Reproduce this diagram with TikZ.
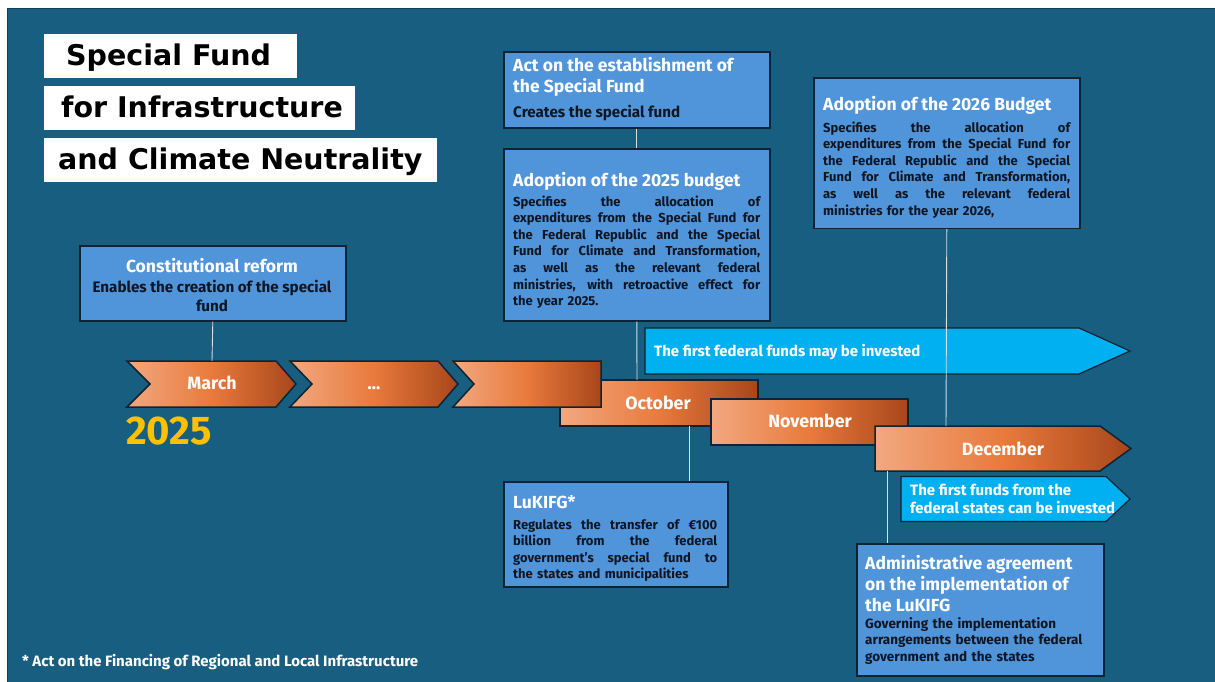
\documentclass[tikz,border=0pt]{standalone}
\usepackage{fontspec}
\setmainfont{Fira Sans}
\newfontfamily\titlefont{DejaVu Sans}
\usetikzlibrary{calc}
\definecolor{bg}{RGB}{23,94,128}
\definecolor{bgedge}{RGB}{14,62,88}
\definecolor{boxblue}{RGB}{80,148,218}
\definecolor{boxline}{RGB}{12,36,54}
\definecolor{darktext}{RGB}{14,22,36}
\definecolor{cyanarrow}{RGB}{0,176,240}
\definecolor{yearyellow}{RGB}{255,192,0}
\definecolor{chevlight}{RGB}{242,168,128}
\definecolor{chevmid}{RGB}{232,122,60}
\definecolor{chevdark}{RGB}{168,70,26}
\definecolor{connector}{RGB}{215,222,228}
\newcommand\jline[2]{\makebox[#1][s]{\spaceskip=0.28em plus 1fil\xspaceskip=0.28em plus 1fil\relax #2}}
\begin{document}
\begin{tikzpicture}[x=1pt,y=-1pt,
  titlebox/.style={fill=white,draw=none,minimum width=#1,minimum height=44,anchor=north west,inner sep=0},
  titletext/.style={anchor=base west,inner sep=0,font=\titlefont\fontsize{28.5}{30}\selectfont\bfseries,text=black},
  infobox/.style={fill=boxblue,draw=boxline,line width=1.6pt,anchor=north west,inner sep=0},
  boxtitle/.style={anchor=base west,inner sep=0,font=\fontsize{17.5}{21}\selectfont\bfseries,text=white},
  boxsub/.style={anchor=base west,inner sep=0,font=\fontsize{15.2}{19}\selectfont\bfseries,text=darktext},
  boxbody/.style={anchor=base west,inner sep=0,font=\fontsize{13}{16.6}\selectfont\bfseries,text=darktext,text width=#1},
  chev/.style={left color=chevlight,right color=chevdark,middle color=chevmid,draw=boxline,line width=1.5pt},
  monthlabel/.style={inner sep=0,anchor=base,font=\fontsize{17.8}{20}\selectfont\bfseries,text=white},
  cyanshape/.style={fill=cyanarrow,draw=boxline,line width=1.2pt},
  cyantext/.style={anchor=base west,inner sep=0,font=\fontsize{15}{19}\selectfont\bfseries,text=white},
  link/.style={draw=connector,line width=0.9pt}]
\useasboundingbox (0,0) rectangle (1215,682);
\fill[white] (0,0) rectangle (1215,682);
\fill[bg] (7,8) rectangle (1215,682);
\draw[bgedge,line width=1.2pt] (7.6,682) -- (7.6,8.6) -- (1215,8.6);

% title
\node[titlebox=253] (tb1) at (43.5,34) {};
\node[titlebox=311] (tb2) at (43.5,86) {};
\node[titlebox=393] (tb3) at (43.5,138) {};
\node[titletext] (tt1) at (66,66) {Special Fund};
\node[titletext] (tt2) at (61,118) {for Infrastructure};
\node[titletext] (tt3) at (58,169) {and Climate Neutrality};

% info boxes
\node[infobox,minimum width=266,minimum height=75] (cr) at (79,245) {};
\node[boxtitle,anchor=base] (crt) at (212,272) {Constitutional reform};
\node[boxsub,anchor=base] (crs1) at (212,292) {Enables the creation of the special};
\node[boxsub,anchor=base] (crs2) at (212,311) {fund};

\node[infobox,minimum width=266,minimum height=76] (act) at (503,51) {};
\node[boxtitle] (actt1) at (513,72) {Act on the establishment of};
\node[boxtitle] (actt2) at (513,93) {the Special Fund};
\node[boxsub] (acts) at (513,118) {Creates the special fund};

\node[infobox,minimum width=266,minimum height=172] (b25) at (503,148) {};
\node[boxtitle] (b25t) at (513,186) {Adoption of the 2025 budget};
\node[boxbody=247pt] (b25b) at (513,206) {%
\jline{247pt}{Specifies the allocation of}\\
\jline{247pt}{expenditures from the Special Fund for}\\
\jline{247pt}{the Federal Republic and the Special}\\
\jline{247pt}{Fund for Climate and Transformation,}\\
\jline{247pt}{as well as the relevant federal}\\
\jline{247pt}{ministries, with retroactive effect for}\\
the year 2025.};

\node[infobox,minimum width=266,minimum height=150] (b26) at (813,77.5) {};
\node[boxtitle] (b26t) at (823,111) {Adoption of the 2026 Budget};
\node[boxbody=247pt] (b26b) at (823,132) {%
\jline{247pt}{Specifies the allocation of}\\
\jline{247pt}{expenditures from the Special Fund for}\\
\jline{247pt}{the Federal Republic and the Special}\\
\jline{247pt}{Fund for Climate and Transformation,}\\
\jline{247pt}{as well as the relevant federal}\\
ministries for the year 2026,};

\node[infobox,minimum width=224,minimum height=105] (luk) at (503,481) {};
\node[boxtitle] (lukt) at (513,508) {LuKIFG*};
\node[boxbody=204pt] (lukb) at (513,529) {%
\jline{204pt}{Regulates the transfer of €100}\\
\jline{204pt}{billion from the federal}\\
\jline{204pt}{government’s special fund to}\\
the states and municipalities};

\node[infobox,minimum width=247,minimum height=132] (adm) at (856,543) {};
\node[boxtitle] (admt1) at (865,569) {Administrative agreement};
\node[boxtitle] (admt2) at (865,590) {on the implementation of};
\node[boxtitle] (admt3) at (865,611) {the LuKIFG};
\node[boxbody=232pt,font=\fontsize{13.5}{16.5}\selectfont\bfseries] (admb) at (865,628) {%
Governing the implementation\\
arrangements between the federal\\
government and the states};

% cyan arrows
\path[cyanshape] (645,328) -- (1079,328) -- (1130,351) -- (1079,374) -- (645,374) -- cycle;
\coordinate (cy1) at (645,328);
\node[cyantext] (cy1t) at (654,356) {The first federal funds may be invested};

% timeline blocks (back to front)
\path[chev] (560,380) rectangle (758,426);
\coordinate (oct) at (560,380);
\node[monthlabel] (octl) at (658,409) {October};
\path[chev] (711,399) rectangle (908,445);
\node[monthlabel] (novl) at (810,427) {November};
\path[chev] (875,426) -- (1100,426) -- (1131,448.5) -- (1100,471) -- (875,471) -- cycle;
\node[monthlabel] (decl) at (1003,455) {December};

\path[cyanshape] (901,476.5) -- (1106,476.5) -- (1130,499) -- (1106,521.5) -- (901,521.5) -- cycle;
\node[cyantext] (cy2a) at (910,495) {The first funds from the};
\node[cyantext] (cy2b) at (910,513.5) {federal states can be invested};

\path[chev] (127,361) -- (276,361) -- (296,384) -- (276,407) -- (127,407) -- (150,384) -- cycle;
\node[monthlabel] (marl) at (212,389.5) {March};
\path[chev] (290,361) -- (438,361) -- (458,384) -- (438,407) -- (290,407) -- (312,384) -- cycle;
\node[monthlabel] (dotl) at (374,389.5) {...};
\path[chev] (453,361) -- (601,361) -- (601,407) -- (453,407) -- (474,384) -- cycle;

% named anchor points on the timeline
\coordinate (marchtop) at (212,361);
\coordinate (octtop) at (637,380);
\coordinate (octbot) at (689,426);
\coordinate (dectop) at (946,426);
\coordinate (decbot) at (887,471);

% connectors
\draw[link] (cr.south) -- (marchtop);
\draw[link] (act.south) -- (b25.north);
\draw[link] (b25.south) -- (octtop);
\draw[link] (b26.south) -- (dectop);
\draw[link] (octbot) -- (octbot |- luk.north);
\draw[link] (decbot) -- (decbot |- adm.north);

% year and footnote
\node[anchor=base west,inner sep=0,font=\fontsize{40}{44}\selectfont\bfseries,text=yearyellow] (year) at (126,444) {2025};
\node[anchor=base west,inner sep=0,font=\fontsize{15}{18}\selectfont\bfseries,text=white] (foot) at (22,666) {* Act on the Financing of Regional and Local Infrastructure};
\end{tikzpicture}
\end{document}
